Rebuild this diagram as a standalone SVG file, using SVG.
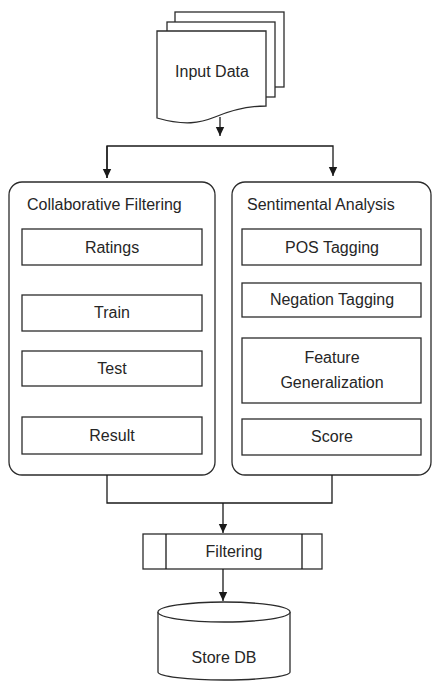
<svg xmlns="http://www.w3.org/2000/svg" width="433" height="681" viewBox="0 0 433 681">
<style>
.s{fill:#fff;stroke:#2b2b2b;stroke-width:1.3}
.c{fill:none;stroke:#1a1a1a;stroke-width:1.3}
text{font-family:"Liberation Sans",Arial,sans-serif;font-size:16px;fill:#262626}
.m{text-anchor:middle}
</style>
<defs>
<marker id="ah" markerWidth="10" markerHeight="10" refX="9" refY="5" orient="auto" markerUnits="userSpaceOnUse">
<path d="M0,0.8 L9,5 L0,9.2 Z" fill="#1a1a1a"/>
</marker>
</defs>
<rect width="433" height="681" fill="#fff"/>
<g id="input">
<rect class="s" x="175" y="12" width="109" height="75"/>
<rect class="s" x="167" y="22" width="108" height="75"/>
<path class="s" d="M157,31 H266 V106 C248,106 232,110 215,117 C200,123 185,126 157,118 Z"/>
<text class="m" x="212" y="77">Input Data</text>
</g>
<g id="cf">
<rect class="s" x="9" y="182" width="206" height="293" rx="13"/>
<text x="27" y="210">Collaborative Filtering</text>
<rect class="s" x="22" y="229" width="180" height="36"/>
<text class="m" x="112" y="253">Ratings</text>
<rect class="s" x="22" y="295" width="180" height="36"/>
<text class="m" x="112" y="318">Train</text>
<rect class="s" x="22" y="351" width="180" height="35"/>
<text class="m" x="112" y="374">Test</text>
<rect class="s" x="22" y="417" width="180" height="37"/>
<text class="m" x="112" y="441">Result</text>
</g>
<g id="sa">
<rect class="s" x="232" y="182" width="199" height="293" rx="13"/>
<text x="247" y="210">Sentimental Analysis</text>
<rect class="s" x="242" y="229" width="179" height="36"/>
<text class="m" x="332" y="253">POS Tagging</text>
<rect class="s" x="242" y="283" width="179" height="34"/>
<text class="m" x="332" y="305">Negation Tagging</text>
<rect class="s" x="242" y="338" width="179" height="65"/>
<text class="m" x="332" y="363">Feature</text>
<text class="m" x="332" y="388">Generalization</text>
<rect class="s" x="242" y="419" width="179" height="36"/>
<text class="m" x="332" y="442">Score</text>
</g>
<g id="filtering">
<rect class="s" x="143" y="534" width="179" height="35"/>
<line class="c" x1="166" y1="534" x2="166" y2="569"/>
<line class="c" x1="302" y1="534" x2="302" y2="569"/>
<text class="m" x="234" y="557">Filtering</text>
</g>
<g id="storedb">
<path class="s" d="M158,612 V672 A66,8 0 0 0 290,672 V612"/>
<ellipse class="s" cx="224" cy="612" rx="66" ry="10"/>
<text class="m" x="224" y="663">Store DB</text>
</g>
<g id="connectors">
<line class="c" x1="220" y1="117" x2="220" y2="136" marker-end="url(#ah)"/>
<polyline class="c" points="107,178 107,146 333,146 333,176" marker-end="url(#ah)"/>
<line class="c" x1="107" y1="146" x2="107" y2="178" marker-end="url(#ah)"/>
<polyline class="c" points="107,475 107,503 332,503 332,475"/>
<line class="c" x1="223" y1="503" x2="223" y2="533" marker-end="url(#ah)"/>
<line class="c" x1="223" y1="569" x2="223" y2="601" marker-end="url(#ah)"/>
</g>
</svg>
